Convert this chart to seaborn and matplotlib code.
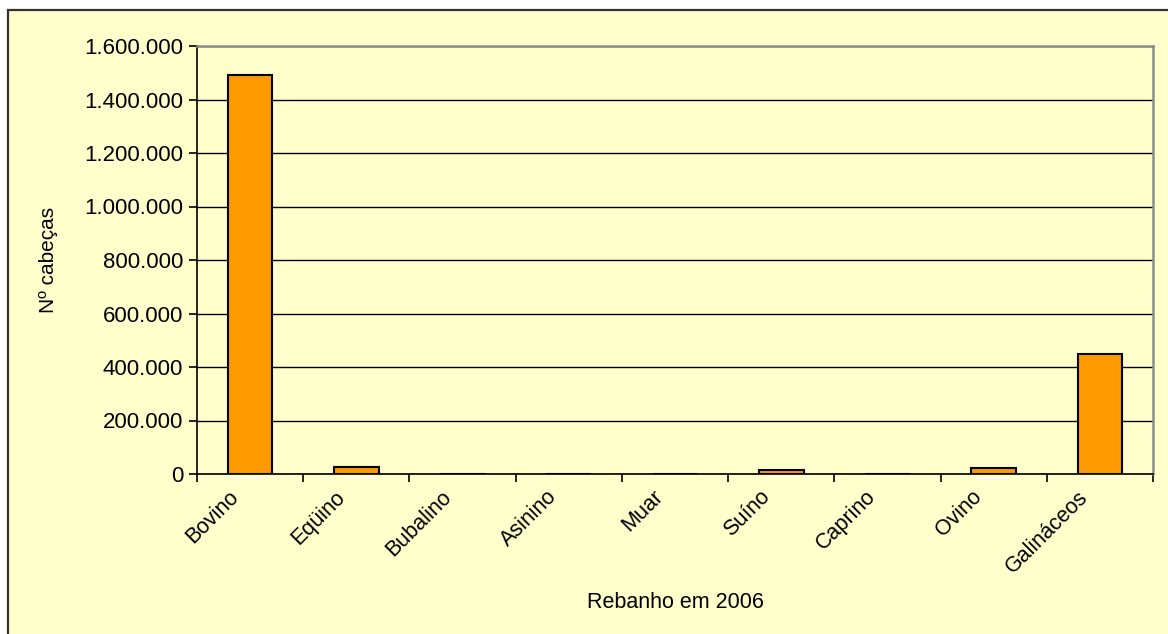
import matplotlib
matplotlib.use("Agg")
import matplotlib.pyplot as plt
from matplotlib.patches import Rectangle
from matplotlib.ticker import FuncFormatter, MultipleLocator, FixedLocator
from matplotlib.transforms import ScaledTranslation
import seaborn as sns
import pandas as pd

# Livestock headcount by herd type, 2006
categorias = ["Bovino", "Eqüino", "Bubalino", "Asinino", "Muar",
              "Suíno", "Caprino", "Ovino", "Galináceos"]
cabecas = [1491000, 27000, 0, 0, 0, 14000, 0, 21000, 448000]

df = pd.DataFrame({"categoria": categorias, "cabecas": cabecas})

sns.set_theme(style="white")
plt.rcParams["font.family"] = ["Liberation Sans", "DejaVu Sans"]
plt.rcParams["text.color"] = "black"
plt.rcParams["axes.labelcolor"] = "black"
plt.rcParams["xtick.color"] = "black"
plt.rcParams["ytick.color"] = "black"

BG = "#FFFFCC"
BAR = "#FF9900"

fig = plt.figure(figsize=(11.68, 6.34), dpi=100, facecolor="white")

# chart-area frame, kept behind the axes
fig.patches.append(Rectangle((8 / 1168, -4 / 634), 1164 / 1168, 628 / 634,
                             transform=fig.transFigure, facecolor=BG,
                             edgecolor="#333333", linewidth=1.6, zorder=-10))

ax = fig.add_axes([197 / 1168, 1 - 474 / 634, 956 / 1168, 428 / 634])
ax.set_facecolor(BG)

sns.barplot(data=df, x="categoria", y="cabecas", order=categorias,
            color=BAR, edgecolor="black", linewidth=1.5, width=0.42,
            saturation=1, ax=ax, zorder=3)

ax.set_ylim(0, 1600000)
ax.set_xlim(-0.5, len(categorias) - 0.5)
ax.yaxis.set_major_locator(MultipleLocator(200000))
ax.yaxis.set_major_formatter(
    FuncFormatter(lambda v, p: f"{int(v):,}".replace(",", ".")))

ax.grid(axis="y", color="black", linewidth=1, zorder=1)
ax.grid(axis="x", visible=False)
ax.set_axisbelow(True)

for s in ["left", "bottom"]:
    ax.spines[s].set_color("black")
    ax.spines[s].set_linewidth(1.2)
for s in ["top", "right"]:
    ax.spines[s].set_color("#8C8C8C")
    ax.spines[s].set_linewidth(1.8)

# tick marks sit between categories; labels sit under each bar
ax.xaxis.set_minor_locator(FixedLocator([i - 0.5 for i in range(len(categorias) + 1)]))
ax.tick_params(axis="x", which="major", length=0, pad=9, labelsize=15.5)
ax.tick_params(axis="x", which="minor", length=6, width=1.2, color="black",
               direction="out", bottom=True)
ax.tick_params(axis="y", which="major", length=6, width=1.2, color="black",
               direction="out", left=True, labelsize=16, pad=4)

shift = ScaledTranslation(-0.22, 0, fig.dpi_scale_trans)
for lbl in ax.get_xticklabels():
    lbl.set_rotation(45)
    lbl.set_ha("right")
    lbl.set_rotation_mode("anchor")
    lbl.set_transform(lbl.get_transform() + shift)

ax.set_xlabel("Rebanho em 2006", fontsize=15.5)
ax.set_ylabel("Nº cabeças", fontsize=15)
ax.xaxis.label.set_va("center")
ax.yaxis.label.set_va("center")
ax.xaxis.set_label_coords(0.5, (474 - 603) / 428)
ax.yaxis.set_label_coords((48 - 197) / 956, 0.5)

fig.savefig("out.png", dpi=100, facecolor="white")
